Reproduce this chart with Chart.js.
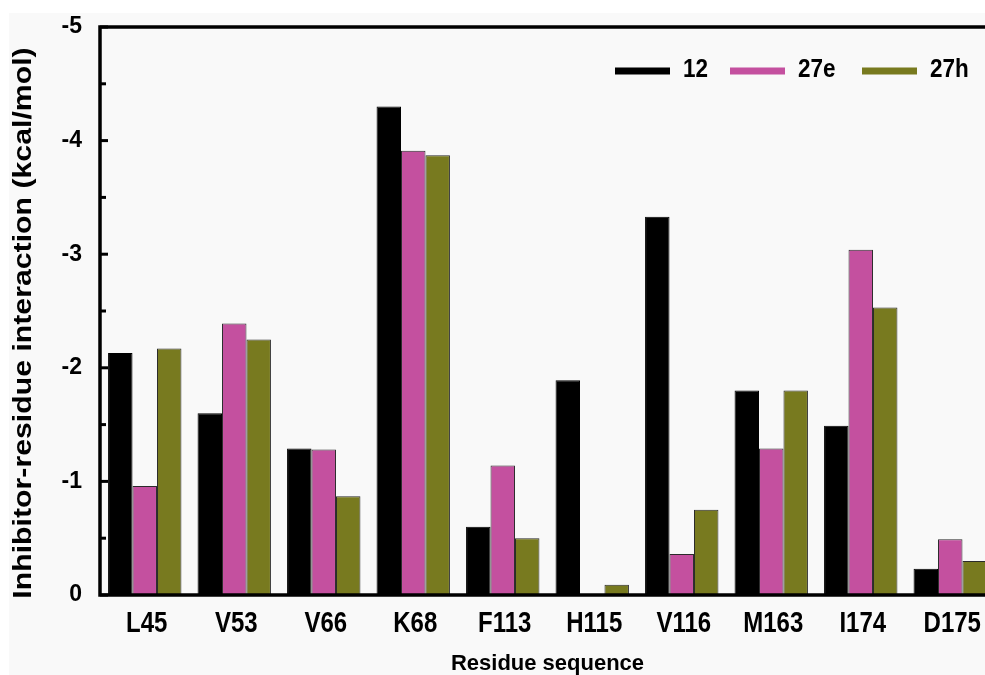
<!DOCTYPE html>
<html>
<head>
<meta charset="utf-8">
<script src="https://cdn.jsdelivr.net/npm/chart.js@4.4.1/dist/chart.umd.min.js"></script>
<style>
    html, body { margin: 0; padding: 0; background: #ffffff; overflow: hidden; }
    .wrap { position: absolute; left: 9px; top: 13px; width: 1000px; height: 662px; background: #f9f9f9; }
</style>
</head>
<body>
<div class="wrap"><canvas id="Graph" width="1000" height="662"></canvas></div>
<script>
const residues = ['L45', 'V53', 'V66', 'K68', 'F113', 'H115', 'V116', 'M163', 'I174', 'D175'];
const seriesNames = ['12', '27e', '27h'];
const values12 = [-2.13, -1.60, -1.29, -4.30, -0.60, -1.89, -3.33, -1.80, -1.49, -0.23];
const values27e = [-0.96, -2.39, -1.28, -3.91, -1.14, 0, -0.36, -1.29, -3.04, -0.49];
const values27h = [-2.17, -2.25, -0.87, -3.87, -0.50, -0.09, -0.75, -1.80, -2.53, -0.30];
const yTicks = [-5, -4, -3, -2, -1, 0];
const yTitle = 'Inhibitor-residue interaction (kcal/mol)';

const colors = ['#000000', '#c4509f', '#787a1f'];
const fontName = '"Liberation Sans", Arial, sans-serif';

// frame + inward ticks on the left axis
const framePlugin = {
    id: 'frame',
    afterDraw(chart) {
        const ctx = chart.ctx;
        const a = chart.chartArea;
        const y = chart.scales.y;
        ctx.save();
        ctx.strokeStyle = '#000';
        ctx.lineWidth = 3.5;
        ctx.strokeRect(a.left, a.top, a.right - a.left, a.bottom - a.top);
        ctx.lineWidth = 3;
        for (let v = -5; v <= 0; v += 0.5) {
            const py = y.getPixelForValue(v);
            const len = Number.isInteger(v) ? 8 : 6;
            ctx.beginPath();
            ctx.moveTo(a.left, py);
            ctx.lineTo(a.left + len, py);
            ctx.stroke();
        }
        ctx.restore();
    }
};

// text in the original is a little stretched, so titles / x labels are drawn here
const textPlugin = {
    id: 'stretchedText',
    afterDraw(chart) {
        const ctx = chart.ctx;
        const a = chart.chartArea;
        const x = chart.scales.x;
        ctx.save();
        ctx.fillStyle = '#000';
        ctx.textAlign = 'center';
        ctx.textBaseline = 'middle';

        // y title
        ctx.save();
        ctx.translate(15, (a.top + a.bottom) / 2 + 12);
        ctx.rotate(-Math.PI / 2);
        ctx.scale(1.21, 1);
        ctx.font = 'bold 25px ' + fontName;
        ctx.fillText(yTitle, 0, 0);
        ctx.restore();

        // x category labels
        ctx.font = 'bold 24px ' + fontName;
        chart.data.labels.forEach((lab, i) => {
            ctx.save();
            ctx.translate(x.getPixelForTick(i) + 2, a.bottom + 29);
            ctx.scale(1, 1.2);
            ctx.fillText(lab, 0, 0);
            ctx.restore();
        });
        ctx.restore();
    }
};

// legend drawn inside the plot, top right
const legendPlugin = {
    id: 'innerLegend',
    afterDraw(chart) {
        const ctx = chart.ctx;
        const xs = [606, 721, 853];
        const ly = 58;
        ctx.save();
        ctx.font = 'bold 22.5px ' + fontName;
        ctx.textBaseline = 'middle';
        chart.data.datasets.forEach((ds, i) => {
            ctx.strokeStyle = ds.backgroundColor;
            ctx.lineWidth = 7;
            ctx.beginPath();
            ctx.moveTo(xs[i], ly);
            ctx.lineTo(xs[i] + 55, ly);
            ctx.stroke();
            ctx.save();
            ctx.translate(xs[i] + 68, ly - 1);
            ctx.scale(1, 1.18);
            ctx.fillStyle = '#000';
            ctx.fillText(ds.label, 0, 0);
            ctx.restore();
        });
        ctx.restore();
    }
};

const datasets = [values12, values27e, values27h].map((vals, i) => ({
    label: seriesNames[i],
    data: vals,
    backgroundColor: colors[i],
    borderColor: i === 0 ? '#000000' : '#2b2b2b',
    borderWidth: 1,
    borderSkipped: 'start',
    categoryPercentage: 0.82,
    barPercentage: 1.0
}));

new Chart(document.getElementById('Graph').getContext('2d'), {
    type: 'bar',
    data: { labels: residues, datasets: datasets },
    plugins: [framePlugin, textPlugin, legendPlugin],
    options: {
        responsive: false,
        animation: false,
        layout: { padding: { top: 14, right: 14, left: 0, bottom: 0 } },
        plugins: { legend: { display: false }, tooltip: { enabled: false } },
        scales: {
            x: {
                grid: { display: false, drawTicks: false },
                border: { display: false },
                ticks: { display: false },
                title: {
                    display: true,
                    text: 'Residue sequence',
                    color: '#000',
                    font: { family: fontName, size: 22, weight: 'bold' },
                    padding: { top: 0, bottom: -2 }
                },
                afterFit(s) {
                    s.height = 80;
                    s.paddingLeft = 0;
                    s.paddingRight = 0;
                }
            },
            y: {
                reverse: true,
                min: -5,
                max: 0,
                grid: { display: false, drawTicks: false },
                border: { display: false },
                afterBuildTicks(s) { s.ticks = yTicks.map(v => ({ value: v })); },
                ticks: {
                    color: '#000',
                    padding: 18,
                    font: { family: fontName, size: 23, weight: 'bold' }
                },
                afterFit(s) {
                    s.width = 91;
                    s.paddingTop = 0;
                    s.paddingBottom = 0;
                }
            }
        }
    }
});
</script>
</body>
</html>
